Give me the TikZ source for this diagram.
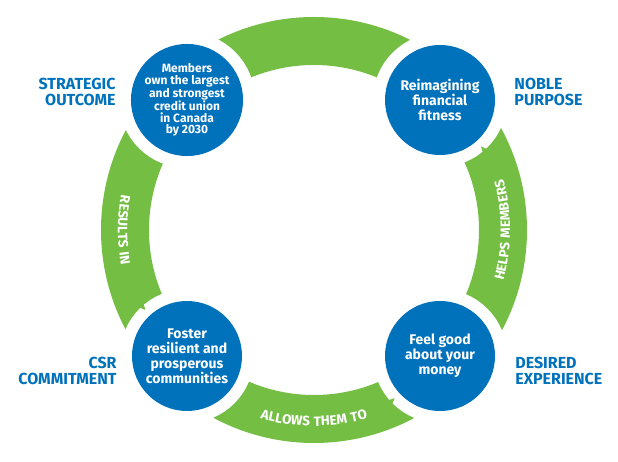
\documentclass[tikz,border=0pt]{standalone}
\usepackage{fontspec}
\setmainfont{Fira Sans}
\newfontfamily\arcfamily{Fira Sans}[LetterSpace=6]
\usepackage{tikz}
\usetikzlibrary{positioning,calc,decorations.text}
\definecolor{ringgreen}{RGB}{116,190,68}
\definecolor{bubbleblue}{RGB}{0,113,187}
\newcommand{\arcfont}{\color{white}\arcfamily\fontsize{13.5}{13.5}\selectfont\bfseries}
\tikzstyle{ring} = [fill=ringgreen]
\tikzstyle{bubble} = [circle, minimum size=110pt, inner sep=0pt, fill=bubbleblue, text=white, align=center,
preaction={draw=white, fill=white, line width=24pt}]
\tikzstyle{tag} = [text=bubbleblue, font=\fontsize{16}{16}\selectfont\bfseries, inner sep=0pt]
\tikzset{along/.style={decorate, decoration={text along path, text={|\arcfont|#1}, text align=center}}}

\begin{document}
\begin{tikzpicture}[x=1pt,y=1pt]
                 \useasboundingbox (-314,-232) rectangle (304,230);
                 % green ring
                 \fill[ring, even odd rule] (0,0) circle (213pt) (0,0) circle (165pt);
                 \node (goal) [bubble, font=\fontsize{12}{11.7}\selectfont\bfseries] at (-127,130)
                       {Members\\own the largest\\and strongest\\credit union\\in Canada\\by 2030};
                 \node (purpose) [bubble, font=\fontsize{14}{15}\selectfont\bfseries] at (126,130)
                       {Reimagining\\financial\\fitness};
                 \node (feel) [bubble, font=\fontsize{14}{15}\selectfont\bfseries] at (126,-126)
                       {Feel good\\about your\\money};
                 \node (csr) [bubble, font=\fontsize{14}{15}\selectfont\bfseries] at (-127,-126)
                       {Foster\\resilient and\\prosperous\\communities};
                 % small tabs at the start of each arc
                 \foreach \c/\a in {purpose/-48.6, feel/-137.1, csr/132.1}
                     \fill[ring] ($(\c.center)+(\a:62pt)$) -- ($(\c.center)+(\a+3:70pt)$)
                           -- ($(\c.center)+(\a-3:70pt)$) -- cycle;
                 % words along the ring
                 \path[along=HELPS MEMBERS] (-30:196pt) arc[start angle=-30, end angle=30, radius=196pt];
                 \path[along=ALLOWS THEM TO] (240:196pt) arc[start angle=240, end angle=300, radius=196pt];
                 \path[along=RESULTS IN] (150:196pt) arc[start angle=150, end angle=210, radius=196pt];
                 % outside labels
                 \node (outcome) [tag, align=right, left=15pt of goal, yshift=8.5pt] {STRATEGIC\\OUTCOME};
                 \node (noble) [tag, align=left, right=19pt of purpose, yshift=8.5pt] {NOBLE\\PURPOSE};
                 \node (desired) [tag, align=left, right=20pt of feel, yshift=-15pt] {DESIRED\\EXPERIENCE};
                 \node (commit) [tag, align=right, left=15pt of csr, yshift=-15pt] {CSR\\COMMITMENT};
             \end{tikzpicture}
\end{document}
